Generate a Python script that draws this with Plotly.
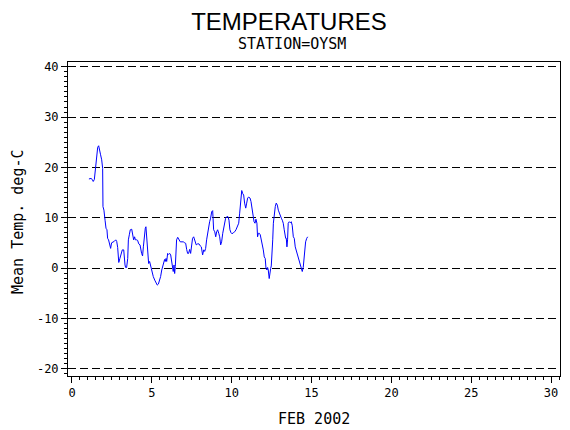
import plotly.graph_objects as go

# hourly-ish mean temperature readings, Feb 2002, station OYSM
day = [1.06, 1.19, 1.27, 1.33, 1.40, 1.46, 1.52, 1.61, 1.67, 1.73, 1.79, 1.86, 1.92, 1.94, 2.00,
       2.07, 2.13, 2.19, 2.23, 2.29, 2.36, 2.42, 2.48, 2.57, 2.65, 2.74, 2.80, 2.86, 2.90, 2.93,
       3.00, 3.07, 3.15, 3.24, 3.28, 3.32, 3.36, 3.42, 3.49, 3.53, 3.59, 3.65, 3.74, 3.80, 3.86,
       3.92, 3.97, 4.05, 4.11, 4.18, 4.26,
       4.36, 4.42, 4.47, 4.53, 4.59, 4.63, 4.68, 4.74, 4.80, 4.86, 4.93, 5.01, 5.09, 5.18, 5.26,
       5.34, 5.41, 5.47, 5.55, 5.62, 5.68, 5.74, 5.80, 5.84, 5.89, 5.93, 5.99, 6.05, 6.12, 6.18,
       6.24, 6.31, 6.34, 6.39, 6.43, 6.47, 6.51, 6.55, 6.62, 6.70, 6.78, 6.89, 6.97, 7.06, 7.12,
       7.18, 7.24, 7.30, 7.37, 7.43, 7.49, 7.55, 7.62, 7.70, 7.78, 7.87, 7.95, 8.03,
       8.10, 8.18, 8.25, 8.31, 8.37, 8.43, 8.50, 8.56, 8.62, 8.68, 8.75, 8.81, 8.87, 8.94, 9.00,
       9.06, 9.12, 9.19, 9.25, 9.31, 9.37, 9.44, 9.50, 9.56, 9.62, 9.69, 9.77, 9.83, 9.89, 9.96,
       10.02, 10.10, 10.19, 10.27, 10.35, 10.44, 10.50, 10.56, 10.63, 10.69, 10.75, 10.81, 10.88,
       10.94, 11.00, 11.06, 11.15, 11.21, 11.27, 11.33, 11.40, 11.46,
       11.52, 11.58, 11.62, 11.67, 11.73, 11.79, 11.85, 11.92, 11.98, 12.04, 12.10, 12.15, 12.21,
       12.25, 12.29, 12.35, 12.40, 12.44, 12.48, 12.52, 12.57, 12.61, 12.67, 12.73, 12.79, 12.86,
       12.92, 12.98, 13.04, 13.11, 13.17, 13.23, 13.29, 13.34, 13.38, 13.42, 13.46, 13.50, 13.54,
       13.61, 13.67, 13.73, 13.79, 13.86, 13.92, 13.98, 14.04, 14.11, 14.17, 14.23, 14.30, 14.36,
       14.42, 14.48, 14.53, 14.57, 14.63, 14.70, 14.76]

temp = [17.7, 17.8, 17.6, 17.2, 17.6, 19.5, 21.5, 24.0, 24.3, 23.1, 22.5, 21.5, 19.8, 12.2, 11.5,
        9.5, 7.9, 7.6, 5.9, 5.6, 4.2, 3.9, 5.0, 5.1, 5.3, 5.6, 5.3, 4.1, 1.6, 1.1,
        1.9, 2.9, 3.6, 3.6, 1.6, 0.6, 0.1, 0.1, 1.9, 5.6, 6.6, 7.6, 7.7, 6.2, 5.6,
        6.2, 5.6, 5.6, 5.5, 4.8, 4.6,
        2.9, 2.4, 4.2, 6.6, 7.9, 8.2, 6.2, 2.9, 0.9, 1.3, 0.3, -0.7, -1.7, -2.4, -2.9,
        -3.4, -3.2, -2.7, -1.7, -0.4, 0.4, 0.9, 1.7, 1.3, 1.9, 1.3, 2.9, 2.7, 2.9, 2.6,
        1.3, -0.3, -0.7, 0.6, -1.1, 0.3, 3.9, 5.6, 6.1, 5.6, 5.2, 5.2, 5.2, 5.0, 4.9,
        3.7, 2.9, 2.9, 3.7, 2.9, 4.2, 5.9, 6.2, 5.2, 4.6, 4.8, 4.8, 4.4,
        4.2, 2.6, 3.6, 3.3, 3.9, 5.6, 7.2, 7.9, 9.2, 9.9, 11.2, 11.4, 7.6, 7.2, 6.2,
        7.2, 7.6, 6.9, 6.2, 4.6, 5.2, 6.9, 8.2, 8.9, 9.9, 10.2, 10.2, 9.5, 7.6, 7.0,
        6.8, 7.0, 7.2, 7.6, 8.2, 8.9, 10.9, 13.5, 15.4, 14.8, 14.5, 12.9, 11.9,
        12.9, 13.9, 14.1, 13.9, 13.2, 11.9, 10.9, 9.2, 8.9,
        9.7, 8.9, 6.2, 6.9, 6.9, 6.6, 5.6, 5.2, 3.6, 2.2, 1.9, -0.1, -0.4,
        0.1, -0.4, -2.1, -0.1, -0.1, 0.4, 2.2, 5.6, 8.9, 10.9, 12.2, 12.9, 12.5,
        11.5, 10.9, 10.2, 9.9, 9.5, 8.9, 7.6, 6.2, 5.9, 5.9, 4.2, 5.6, 8.9,
        9.2, 9.0, 9.2, 8.5, 6.2, 5.9, 4.2, 3.6, 2.6, 1.9, 1.3, 0.6, -0.1,
        -0.7, 0.1, 1.6, 4.2, 5.2, 5.9, 6.2]

x_ticks = [0, 5, 10, 15, 20, 25, 30]
y_ticks = [-20, -10, 0, 10, 20, 30, 40]

mono = "DejaVu Sans Mono"

fig = go.Figure()
fig.add_trace(go.Scatter(x=day, y=temp, mode="lines",
                         line=dict(color="#0000ff", width=1),
                         showlegend=False, hoverinfo="skip"))

# page body adds 8px margin, so the figure is a bit smaller than the window
fig.update_layout(
    width=562, height=422,
    margin=dict(l=60, r=10, t=54, b=54),
    paper_bgcolor="white", plot_bgcolor="white",
    title=dict(text="TEMPERATURES", x=0.5, xanchor="center",
               y=1 - 14 / 422, yanchor="middle", yref="container",
               font=dict(family="Liberation Sans Narrow, Liberation Sans", size=24, color="black")),
    font=dict(family=mono, size=12, color="black"),
)

# subtitle + axis labels as annotations so they sit where the original puts them
fig.add_annotation(text="STATION=OYSM", xref="paper", yref="paper", x=(283.5 - 60) / 492, y=(376 - 44) / 314,
                   xanchor="center", yanchor="middle",
                   showarrow=False, font=dict(family=mono, size=15, color="black"))
fig.add_annotation(text="FEB 2002", xref="paper", yref="paper", x=(314 - 68) / 492, y=(376 - 419) / 314,
                   xanchor="center", yanchor="middle",
                   showarrow=False, font=dict(family=mono, size=15, color="black"))
fig.add_annotation(text="Mean Temp. deg-C", xref="paper", yref="paper", x=(18 - 68) / 492, y=(376 - 222) / 314,
                   xanchor="center", yanchor="middle",
                   textangle=-90, showarrow=False, font=dict(family=mono, size=15, color="black"))

fig.update_xaxes(
    range=[-0.25, 30.56], tickvals=x_ticks, ticktext=[str(v) for v in x_ticks],
    showgrid=False, zeroline=False,
    showline=True, linecolor="black", linewidth=1, mirror=True,
    ticks="outside", ticklen=6, tickcolor="black",
    minor=dict(dtick=0.5, tick0=0, ticks="outside", ticklen=3, tickcolor="black", showgrid=False),
)
fig.update_yaxes(
    range=[-21.47, 40.95], tickvals=y_ticks, ticktext=[str(v) for v in y_ticks],
    showgrid=True, gridcolor="black", gridwidth=1, griddash="8px,4px",
    zeroline=False,
    showline=True, linecolor="black", linewidth=1, mirror=True,
    ticks="outside", ticklen=6, tickcolor="black",
    minor=dict(dtick=1, tick0=0, ticks="outside", ticklen=3, tickcolor="black", showgrid=False),
)

fig.write_html("out.html")
